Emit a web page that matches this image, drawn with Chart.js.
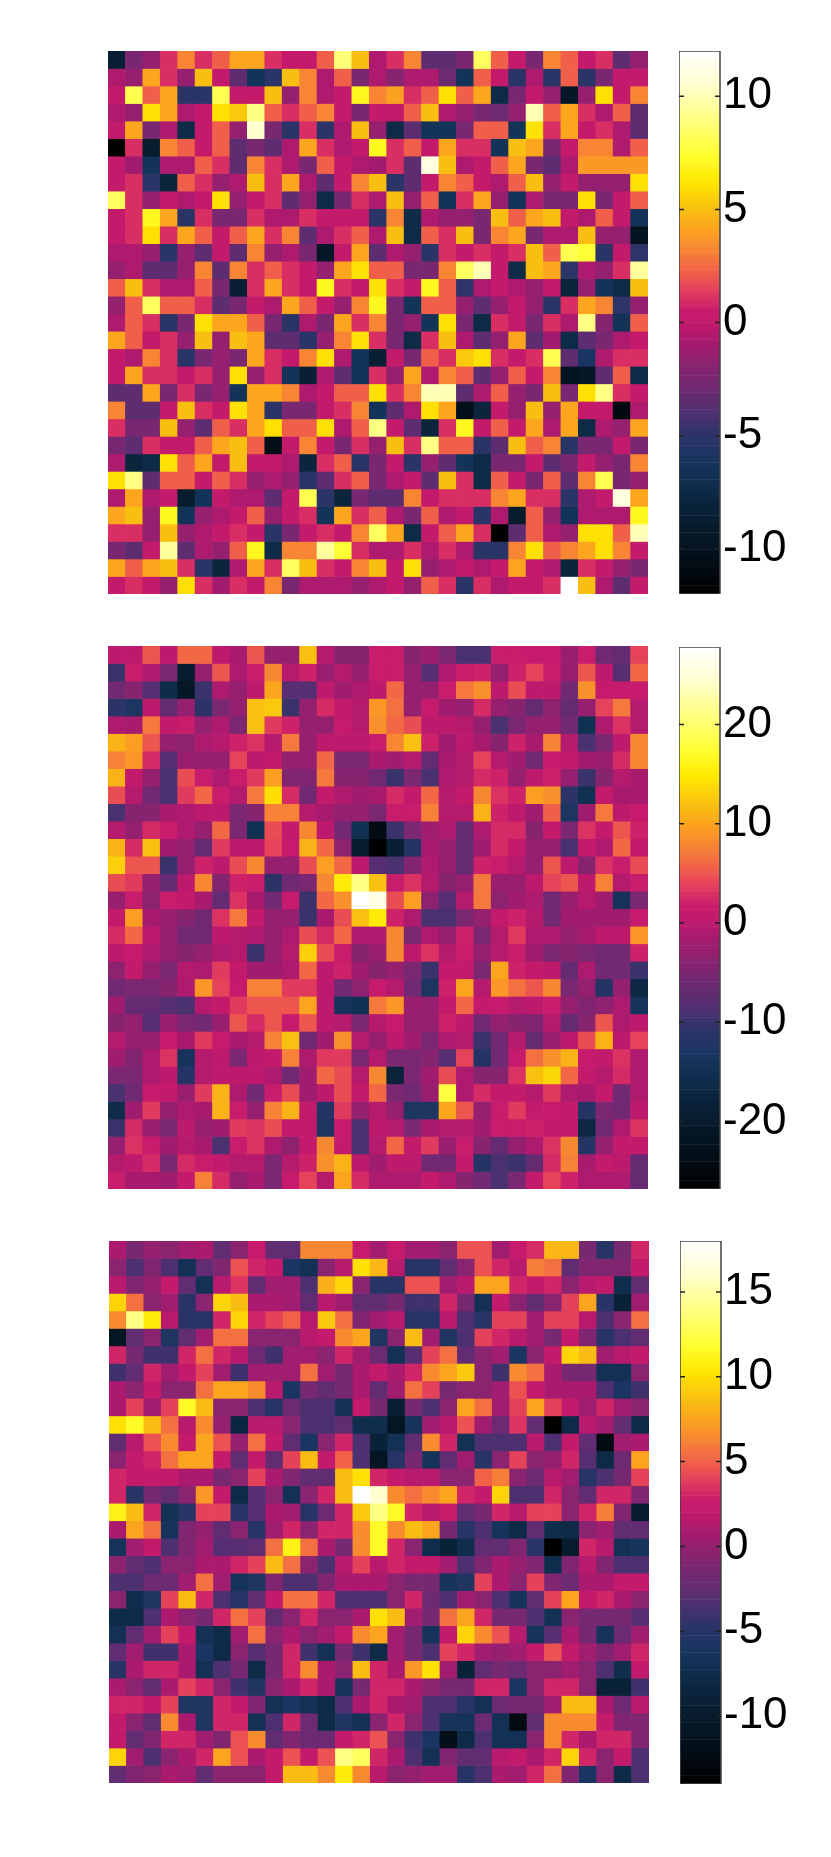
<!DOCTYPE html>
<html>
<head>
<meta charset="utf-8">
<title>Heatmaps</title>
<script src="https://cdn.jsdelivr.net/npm/chart.js@4/dist/chart.umd.min.js"></script>
<style>
    html, body { margin: 0; padding: 0; background: #fff; }
    #page { position: relative; width: 831px; height: 1857px; overflow: hidden; }
    canvas { position: absolute; }
</style>
</head>
<body>
<div id="page"></div>
<script>
// Values, rows top to bottom
const gridTop = [
[-8.5,-2.5,-1.5,1,3.2,1,2.2,4.2,4.2,1,0,0,2.2,8.8,5,-.7,1,3.2,-3.5,-3.5,-2.5,8.3,2.2,0,-2.5,3.2,2.2,0,1,-3.5,-1.5],
[-.7,-1.5,4.2,1,-1.5,5,0,-3.5,-6.5,-5.2,5,3.2,-.7,2.2,-2.5,-.7,-2,-.7,-.7,-3,-6.5,2.2,0,-5.2,-.7,-5.2,2.2,-5.2,-2.5,0,0],
[0,8,2.2,4.2,-5.2,-5.2,8,0,0,5,-1.5,3.2,-.7,0,7,3.2,4,1,2.2,6,2.2,4.2,-7.5,-2.5,0,-1.5,-9.5,-1.5,6,0,3.2],
[-.7,-1.5,6,4.2,-.7,0,6,5.3,9,2.2,1,2.2,3.2,0,-2.5,0,0,2.2,5,-.7,-1.5,-2.5,-3,-1.5,10,2.2,4.2,1,-.7,2.2,-3.5],
[0,4.2,-2.5,-.7,-7.5,0,2.2,-1.5,10.5,-2.5,-5.2,1,-5.2,-.7,5,-1.5,-7.5,-3.5,-6.5,-6.5,-2.5,2.2,2.2,-6.5,6,1,4.2,0,1,-.7,-3.5],
[-12,1,-9,3.2,2.2,0,2.2,-3.5,-2.5,-3.5,-.7,4.2,1,-.7,0,7,1,2.2,0,4.2,1,1,-6.5,5,4.2,-2.5,0,3.2,3.2,-.7,2.2],
[0,-1,-6.5,-.7,-.7,2.2,1,-3.5,3.2,1,-.7,-2.5,2.2,0,-.7,-1,1,-3.5,11,5,-.7,0,2.2,4.2,-2.5,-3.5,-.7,3.8,3.8,3.8,3.8],
[0,1,-5.2,-8,2.2,1,-1.5,-.7,5,1,4.2,-.7,-3.5,0,3.2,5,-5.2,-3.5,0,3.2,2.2,0,-.7,2.2,5,-1.5,0,-1.5,-1.5,-1.5,6],
[8.3,1,-1.5,0,-.7,0,6,-1.5,0,1,-3.5,-1.5,-7.5,-2.5,1,-.7,5,-1.5,2.2,-6.5,1,4.2,-1.5,-6.5,-.7,-2.5,-2.5,6,-2.5,0,2.2],
[0,1,7,4.2,-5.2,1,-2.5,-2.5,1,-.7,-.7,1,0,0,0,-5.2,3.2,-7.5,-.7,-1.5,-1.5,-2.5,5,2.2,4.2,5,0,-.7,2.2,0,-6.5],
[0,1,6,1,4.2,2.2,0,2.2,4.2,1,3.2,-3.5,-.7,1,2.2,-.7,5,-7.5,2.2,1,5,-2.5,3.2,4.2,-2.5,-.7,-.7,5,-1.5,-1.5,-10],
[-.7,-.7,-1.5,-5.2,-1.5,-3.5,0,-3.5,3.2,-1.5,-.7,-2.5,-9.5,0,4.2,-3.5,-.7,-1.5,-5.2,1,0,1,0,1,5,2.2,8,7.5,-5.2,0,-5],
[-1.5,-.7,-3.5,-3.5,-1.5,3.2,-3.5,3.2,1,2.2,1,0,-1.5,4.2,6,2.2,2.2,-2.5,-2.5,3.2,8.3,10,0,-7.5,5,4.2,-5,-.7,-1.5,1,9.5],
[2.2,5,1,-.7,-.7,2.2,-2.5,-8.5,1,4.2,1,0,7,1,0,6,1,0,7,2.2,-5,-.7,0,-.7,-1.5,0,-8,-1.5,-6.5,-7.5,5],
[-1.5,2.2,8.3,2.2,2.2,1,-3.5,-2.5,0,-.7,4.2,2.2,0,-1.5,3.2,7,-2.5,-6.5,2.2,2.2,-1.5,-3.5,-1.5,0,-1.5,-5.2,1,4.2,3.2,-5,-1.5],
[-.7,2.2,1,-5.2,-2.5,6,4.2,4.2,2.2,-2.5,-5.2,-.7,-2.5,4.2,1,3.2,-2.5,-1.5,-6.5,6,-2.5,-7.5,1,0,-2.5,1,-.7,9,-2,-6.5,2.2],
[4.2,2.2,0,1,-1.5,5,-1.5,5,4.2,-3.5,-3.5,-5.2,-1.5,3.2,6,1,-2.5,-7.5,1,5,-.7,-3.5,-1.5,4.2,-3.5,-1,-7.5,-3.5,-2.5,-.7,0],
[0,-.7,3.2,1,-5.2,-2.5,-1.5,-2.5,4.2,1,0,3.2,6,-.7,-6.5,-8.5,0,-2.5,2.2,1,5.3,6,1,0,1,8,-3.5,-6,-.7,1,1],
[0,4.2,1,1,0,1,-1.5,6,-1.5,1,-6.5,-8.5,-.7,-3.5,-6.5,1,-1.5,4.2,-.7,3.2,2.2,-3.5,-1.5,2.2,0,3.2,-10,-9.5,-3.5,2.2,-7.5],
[-3.5,-3.5,4.2,-2.5,1,-2.5,-1.5,-6.5,4.2,4.2,3.2,-.7,0,2.2,2.2,6,1,3.2,10,10,-3.5,-.7,2.2,-1.5,-2.5,5,-2.5,6,9,1,0],
[3.2,-3.5,-3.5,0,5,1,0,6,4.2,-5.2,-2.5,-2.5,0,1,3.2,-6.5,-3.5,-.7,6,4.2,-10.5,-8,0,-1.5,5,-1.5,4.2,0,0,-11,-.7],
[1,-2.5,-2.5,5,-1.5,-3.5,2.2,1,4.2,6,2.2,2.2,6,-.7,2.2,9,0,-3.5,-8,1,7,0,2.2,0,4.2,-.7,4.2,-7.5,-.7,-1.5,4.2],
[-2.5,-3.5,1,0,0,2.2,4.2,5,2.2,-10.5,0,3.2,0,-2.5,1,-1.5,5,1,9,2.2,2.2,-5.2,-3.5,5,2.2,3.2,-5.2,-2.5,-2.5,0,-2.5],
[-.7,-8,-7.5,6,2.2,4.2,0,5,0,0,-.7,-8,1,2.2,-5.2,-2.5,0,-5.2,-1.5,-3.5,-6.5,-7.5,-2.5,-2.5,0,-3.5,-2.5,0,-1.5,-2.5,3.2],
[6,9,-3.5,2.2,2.2,0,2.2,1,-1.5,-.7,-1.5,-5.2,-3.5,1,2.2,-2.5,-.7,0,-3.5,5,1,-7.5,2.2,0,-2.5,2.2,-3.5,3.2,8,-2.5,-1.5],
[-.7,4.2,-.7,0,-9,-6.5,0,-.7,-.7,-3.5,0,8,-5.2,-8,-2.5,-3.5,-3.5,3.2,0,1,1,1,3.2,4.2,1,1,-5.2,-.7,0,11,4.2],
[4.2,5,-1.5,7,-6.5,-1.5,-.7,0,2.2,-1.5,0,1,-6.5,4.2,1,2.2,-.7,-2.5,2.2,-.7,0,-5.2,-.7,-9,2.2,-1.5,-6.5,-.7,-.7,-.7,7],
[1,1,-1.5,5,-1.5,-.7,0,1,0,-5.2,-2.5,0,1,0,3.2,8.3,4.2,-7.5,0,2.2,4.2,1,-12,-3.5,2.2,-.7,-1.5,6,6,2.2,10],
[-2.5,-3.5,0,9.5,-3.5,-.7,-1.5,2.2,7,-7.5,3.2,3.2,9.5,7.5,1,-.7,-.7,1,-.7,1,-.7,-5.2,-5.2,3.2,6,2.2,3.2,4.2,6,3.2,0],
[4.2,2.2,4.2,5,1,-5.2,-8,-.7,4.2,1,8.3,5,1,0,3.2,5,0,6,-1.5,-.7,0,-.7,0,4.2,0,-.7,-8,1,0,-1.5,-2.5],
[0,1,0,-1.5,6,1,-1,1,0,3.2,-2.5,-.7,-.7,-.7,-1.5,-.7,0,-1.5,2.2,1,-5.2,1,-.7,0,0,1,12,5,-.7,-3.5,0]
];

const gridMiddle = [
[0,0,5,0,6,6,0,-1.5,5,-3,-3,12,-.5,-4,-4,1.5,1.5,-4,-2.5,-5,-9,-9,1.5,1.5,1,1,-2.5,1.5,-6,-7,4],
[-10,1.5,-1,-5,-20,-3,5,-1,1.5,8,-.5,2,-2.5,-.5,-3,1.5,1.5,-3,-8,-1,1.5,2,-3,2,4,1.5,-2.5,5,0,-8,6],
[-6,-4,-8,-16,-21,-10,-1,-3,0,10,-8,-8,0,-2,-1,0,6,-3,-3,1.5,7,8.5,0,4.5,0,0,-6,8.5,1,1,1],
[-11,-13,0,-7,-3,-11,-5,-3,12,12.5,-10,-3,2.5,.5,-.5,9,6.5,-3,1,-2,-3,2.5,-3,-4,-7,-3.5,-7,-3,4,7,-.5],
[-1,-1.5,7,.5,1.5,-3,-1,-5,12,3.5,2,-3,-3,1,-.5,8.5,6,4.5,0,0,-.5,-3,-9,-5,-3,-3,-6,-15,-1,3,-.5],
[11,9.5,5,-3,-3.5,-1,-.5,2,3,-.5,7,-3,0,0,0,1.5,8,12,2,-2,0,-1.5,-4,2,-1.5,7.5,-.5,-9,-5,0,8],
[7.5,9,2.5,-8,-2.5,-3,-3,4,0,.5,-3,-3,6,-5,-5,-1.5,-2,-.5,-7,-1.5,-.5,4,-.5,-2,-6,1,.5,-2,-2.5,2.5,8],
[11,.5,-3,-9,4.5,1.5,-1,1.5,3.5,9.5,-4.5,-4.5,7,-4,-4,-6,-10,-5,-9,-1,-.5,2.5,2,-3,0,2,-3,-10,-4,-.5,-1.5],
[4.5,-.5,-6,-9,3.5,6,1.5,-.5,7,14,2.5,-6,.5,-1,-2,-1.5,2.5,.5,6,-.5,.5,8,3,2,9.5,8.5,-11,-15,.5,-1.5,-1.5],
[-9,-4,-4,-1.5,-1,0,0,-5,-4,7.5,7.5,-.5,-1.5,-3,-3,-5,1.5,1.5,7.5,-.5,-.5,11,2,0,-2,5.5,-13,-2,7,0,1],
[-.5,-3,2.5,1.5,-1,-3,6,-5,-15,4.5,.5,8,0,-6,-15,-24,-10,-5,-2,-1,-7,-1,2.5,2.5,-4,.5,-5,3,.5,5,2],
[11,2.5,12,-2,-3,-7,3.5,0,0,4,1,11,6,-3.5,-20,-26.8,-19,-12,-1.5,-3,-7,-2,2.5,.5,-3,-3,-9,.5,-1,6,.5],
[13,5,5,-10,-3,2,0,4.5,8,-3,-3,4.5,9.5,6,0,-8,-9,-4.5,-1,-3,-7,2,1.5,-.5,-3,5,0,-4,3,1.5,4.5],
[4.5,3.5,-3,-7,0,8,-4.5,2,1.5,-11,-6,-5,8,15,21,12,1.5,3,-.5,-4,-3,7,-2.5,-2.5,0,4,5,0,7.5,-.5,1.5],
[-2.5,1.5,-3.5,1.5,.5,-1.5,-7,3,-1.5,-6,1,-10,6,8.5,27.8,26,4.5,9.5,-3.5,-8,-.5,7,-3.5,-2,-1,-6,-2.5,-.5,-2,-14,-5],
[.5,9.5,-1.5,-2.5,-4,-6,3,7,.5,-3,-3,-10,-1.5,4.5,12,15,2,-1,-9,-9,-5,-3,.5,2,-.5,-6,-2,-2,-2,-2,1],
[2.5,6,0,-3,-6,-6,0,-.5,-1,-3,-1,4.5,2.5,6,-1,-1,8,-5,-1,-3,2,-5,-.5,3.5,-1,-1,-3,-1.5,0,0,9],
[0,1,-1,-3,-4,-3,-1,-.5,-10,-3,-.5,13,4.5,1.5,-4,-2.5,8,0,3,-.5,1.5,-3,-.5,1.5,-2,-5,-4,-5,-6,-6,2],
[-3.5,.5,-3,-5,-.5,-1,3.5,.5,-2,-2,-1,6,0,2,-2,-4,-3,-5,-10,.5,.5,-5,10,2,.5,0,-7,-1,-6,-6,-10],
[-6,-5,-5,-4,-1,9,4,1,7.5,7.5,3.5,3.5,0,-6,-3.5,1,-.5,-6,-13,2,10,-.5,9,6.5,5,8,-5,-3,-12,-3,-17],
[-2,-7,-7,-8,-9,-.5,.5,3.5,5,5,5,10,0,-14,-15,7,9,-2.5,-3,.5,6,.5,1,-.5,0,1.5,-3,-4.5,-3.5,-1,-14],
[-4,-3,-8,-2.5,-5,-6,-2.5,5,2.5,5,1,5,0,-.5,-5,-.5,1,-3,-3,2,0,-6,-3,-4,-4.5,-.5,-7,-4,5,-1,0],
[-.5,-3,-3,1,-1.5,3.5,1,-1.5,-.5,7.5,12,-6,-2,8.5,-.5,-3,0,-2,-5,-1,-.5,-10,-6,-.5,-7,-2.5,0,4.5,11,0,4],
[-2,-4.5,-1,3,-14,-.5,0,-5,0,.5,7.5,-1,3.5,3.5,-5,-.5,-5,-5,-4,-8,4,-12,-6,1,6.5,8.5,11,1,.5,3,-1],
[-5,-5,-1,0,-12,-.5,0,0,0,-1,-6,-2,6,4.5,-.5,8,-18,-5,-2,4.5,-1,-4,-4,3,12,13.5,6,.5,-.5,2.5,-1],
[-9,-6,1,.5,-2.5,3.5,11,-1,-6,1.5,4.5,-2,0,4.5,.5,6,-5,-6,-2.5,18,-1,2.5,.5,.5,-.5,3.5,-1,-1.5,.5,-6,-1],
[-16,-2,3.5,-3,-1,-1.5,11,1.5,-3,7.5,11,.5,-12,3.5,-3,-.5,-3,-13,-13,10,5,-3,1.5,3.5,.5,1,.5,-12,-5,-6,0],
[-10,2.5,-2.5,-5,0,-3,-2,3.5,3,4.5,.5,.5,-13,1,-9,0,-.5,-5,-1.5,-.5,-.5,-2,1.5,1.5,2,.5,.5,-17,-6,-1,3],
[-3,3,1.5,-2,-.5,-1.5,-9,1.5,3,-1,-3.5,.5,8,.5,-9,-.5,6,.5,3.5,-2.5,1.5,-4,-7,-3,-1,3,8,-12,-3,.5,.5],
[-.5,0,2.5,-5,2.5,1.5,.5,-.5,-.5,-5,-.5,2,8.5,11,0,-2,0,0,-6,-6,.5,-12,-9,-10,-7,2.5,7.5,-1.5,.5,0,-7],
[1.5,-1.5,-1.5,-2,.5,7.5,2.5,-3,-1.5,-5,1,4,-.5,10,2.5,-1,-1,-1,.5,-1,-4,-6,-9,-5,.5,4,2,-1,-1,-1,-7]
];

const gridBottom = [
[1,-1.3,0,-.5,.5,1,-2.5,-.5,2.3,-2.5,-2.5,6.3,6.3,6.3,2.3,.5,2.3,.5,.5,-.5,4.5,4.5,.5,2.3,3.3,8.3,8.3,-1.5,-5,-1.5,3],
[-.5,-3.5,-1,-3.5,-7,-2.5,-1,4.5,3,2,-6,-7,-.5,1.5,10,8.3,1.5,-5,-5,-2.5,-.5,4.5,3,1.5,6,5.5,-2.5,-1,-1,-1,2],
[1.5,-1,0,2,-2.5,-7,1.5,3.5,-2.5,.5,.5,-3.5,8,9.5,-.5,-5,-5,4.5,4.5,.5,1.5,7.5,7.5,3,2,3,-.5,1.5,2,-7.5,-2.5],
[9.5,5.5,-.5,.5,-5,-.5,9.5,8.5,1,1,.5,-2.5,1.5,.5,-2.5,-2.5,-1.5,-4,-4,3,-1.5,-7,2,-.5,-2.5,-.5,4,7.5,-5,-9,.5],
[6.5,14,10.5,1.5,-5,-5,3,9.5,3,4,5,1.5,9,5.5,-1,.5,1.5,-5,-5,1.5,-3.5,-5,4,4,.5,4,4,1.5,-3.5,-.5,5.5],
[-11,-2.5,-.5,-5.5,-2.5,.5,5.5,5.5,-.5,-.5,-.5,1.5,2,6.5,7.5,-5.5,-.5,8.5,.5,-5.5,-3.5,4,3,1.5,.5,-1.5,2,-1,-5,-3.5,-2.5],
[3,-1.5,-4,-4,3,5.5,3,1.5,-2,-4,.5,.5,-.5,3,.5,-2,-7,-3,4,5.5,-2.5,-.5,.5,-6,-.5,2,9.5,8.5,.5,1.5,2],
[-4,-2.5,3,.5,2,4,.5,-4,.5,.5,.5,5.5,.5,-1.5,1,2,1,3,6.5,7.5,9,-.5,-4,6.5,5.5,1,-1.5,-1.5,-7,-7,-.5],
[1,-.5,2,-.5,-.5,5.5,7.5,7.5,6.5,1.5,-6,-1.5,-2.5,-1.5,1,-2.5,.5,5.5,4,-1.5,-.5,-.5,.5,4.5,2,1,1,1,-3.5,-6,-4],
[1,4,.5,4,11.5,8.5,-.5,-.5,-3.5,-5,-2,-3.5,-3.5,-7,2,-1.5,-9.5,-1.5,-3.5,-.5,7.5,5.5,.5,4,7.5,4,2,.5,3,.5,-.5],
[10,11.5,8.5,5.5,1.5,6.5,0,-8.5,1.5,1.5,-.5,-3.5,-3.5,-2.5,-7.5,-7.5,-11,-6.5,.5,1.5,4.5,.5,-2,3.5,-2.5,-14,-8,1.5,.5,-2.5,-8],
[-2.5,1.5,4.5,6.5,2,7.5,4.5,0,5.5,2,-2.5,-6,-.5,3,-3.5,-9,-7,-2.5,6.5,3,-7,-3.5,-3.5,-3.5,1.5,-3.5,2,-2.5,-12.5,.5,1],
[-.5,2,3,5.5,7.5,7.5,2,-2.5,2,-2.5,4,8.5,2,5,-3.5,-11,-5,-1.5,-6.5,-2.5,.5,-5,-.5,4,-.5,0,3,-3,-8,-2,7.5],
[3,2,2,2,1,1,-1.5,-.5,4,1,-1,-2.5,-2.5,8.5,10,3,2,1.5,1.5,-.5,-.5,5,6,-.5,-2,1.5,.5,-5,-3.5,-1.5,4],
[3,-5,-1.5,-2.5,-.5,7,2,-8,-3,-.5,-7,-.5,3,8.5,18,16,6.5,5.5,6.5,7.5,3,2,9.5,-3.5,-3.5,3,-.5,-2.5,3,3,-1],
[11,8.5,3,-7,-5,4,4,-5,-3,1,.5,-5,-2,3,9,14,11.5,3,1.5,2.5,-2.5,-1.5,3,1.5,4,4,-.5,3,6,-1,-10],
[1,7.5,5.5,-6.5,-1,0,-2.5,-.5,-5,.5,3,-.5,3,3,6.5,11.5,6.5,8.5,7.5,-1.5,-5,-3.5,-6.5,-8,-2.5,-7.5,-8,-.5,.5,-2.5,-2.5],
[-6.5,.5,2,-3.5,-1,.5,-3,-3,-2.5,5.5,11,5.5,1,-1.5,6.5,11.5,3,-.5,-7.5,-9,-7.5,-2.5,-2.5,-1,-5,-14,-10,3,1.5,-7,-6.5],
[-.5,-2.5,-3.5,-.5,-.5,1,1,3,4,8.5,5.5,-.5,-3.5,1.5,4,1.5,3,2,2,.5,-3.5,-1,1,0,-1,-7.5,-1,1.5,-1,-3.5,-3.5],
[-3.5,-3.5,-2,-2,.5,5.5,.5,-6.5,-5.5,-1,-3.5,-3.5,-1,1,1,1,-.5,-1.5,-1.5,-6.5,-5.5,4,1,-.5,4,-1,-2,1,1,2,2],
[-.5,-7.5,-5.5,4,8.5,3,-3.5,-5,-2.5,2,5.5,5.5,3,-3.5,-3.5,-3.5,-.5,3,-2,-3.5,.5,-.5,-3.5,-6.5,-2.5,4,7.5,2,3,1,-.5],
[-8,-8,-3.5,1,-.5,-1.5,3,5.5,4,-2.5,-.5,3,-.5,-.5,1,10,8.5,.5,-1.5,5.5,7.5,3,-1.5,-1.5,-3.5,-7,-.5,-1.5,-1.5,-1.5,-3],
[-7,-2.5,.5,4,2,-7,-8,.5,5.5,-.5,1,-.5,.5,2,6.5,7.5,.5,-1.5,-6.5,2,9.5,6.5,4.5,1.5,-6.5,-3,1,-1.5,-6.5,-2,.5],
[-2.5,.5,-4,-4,1,-6,-8,-.5,-3,-1.5,3,-4,-7,-1.5,-4,-8,.5,-1.5,-3.5,4,3,.5,0,.5,2,4.5,2,.5,-1,.5,3],
[-5,1,3,3,1,-7,-3.5,-1.5,-8,-1.5,3,6.5,1,-.5,8.5,3,1,7,10,.5,-9,-2.5,-1.5,-2,-.5,-.5,.5,-.5,-3.5,-7.5,2],
[1,-.5,-2.5,1,4,3,-.5,-4,-5.5,-.5,1,3,1,-6.5,-1.5,3,3,1,-.5,-1.5,-1.5,3,3,-6,-.5,3,3,-.5,-9,-9,-4],
[3,3,2,4,-5.5,-5.5,3,2,-1,-7,-6,-7,-8,-3.5,1,3,1,.5,-3.5,-3.5,-5,-7,-2,-1.5,-1.5,.5,8.5,8.5,1,-2,1.5],
[2,-.5,-2.5,6.5,1,-5.5,3,3,-7,-3.5,3,-2,-8,-5.5,-7,-.5,3,-.5,-3.5,-6.5,-6.5,-2,-7,-12.5,-2.5,6.5,6.5,6.5,2,-1,-1],
[2,-2.5,-1,3,3,.5,-1,4.5,6.5,-2.5,-1,-2,-2,2,3,4.5,-.5,-4,-6,-12,-8,-3.5,-7,-7,-.5,6.5,3,1,3,3,-1],
[9.5,.5,-3.5,-.5,1,3,7.5,4.5,1,2,4.5,2,4.5,14,13,3,1,-3.5,-7,-1,-2.5,-2.5,1.5,2,1,3,9.5,3,-.5,2,-3.5],
[-2.5,-1,-.5,1,.5,-2.5,-.5,-.5,-.5,2,8.5,8.5,6.5,10.5,6.5,1.5,-.5,0,.5,.5,-5,-3.5,1,.5,3,5.5,-1,-6,-.5,-8,-3.5]
];

const ticksTop = [-10, -5, 0, 5, 10];
const ticksMiddle = [-20, -10, 0, 10, 20];
const ticksBottom = [-10, -5, 0, 5, 10, 15];

// Colour ramp, position 0..1 and hex
const rampStops = [
    [0, '#000000'], [.084, '#041420'], [.157, '#0a2238'], [.211, '#103050'], [.245, '#183560'],
    [.293, '#2e3468'], [.332, '#4f3070'], [.372, '#6a2a72'], [.419, '#882470'], [.465, '#a81a6e'],
    [.5, '#c41a6c'], [.52, '#c81c6c'], [.553, '#e03860'], [.586, '#ef5a4c'], [.627, '#f68038'],
    [.667, '#fba020'], [.709, '#f9c010'], [.76, '#ffe800'], [.808, '#ffff30'], [.846, '#ffff60'],
    [.896, '#ffff9c'], [.9375, '#ffffd0'], [1, '#ffffff']
];

const hexToRgb = (hex) => [1, 3, 5].map(i => parseInt(hex.slice(i, i + 2), 16));

// Colour for a value between min and max
const colourFor = (value, min, max) => {
    const t = Math.min(1, Math.max(0, (value - min) / (max - min)));
    let i = 1;
    while (i < rampStops.length - 1 && rampStops[i][0] < t) i++;
    const [t0, c0] = rampStops[i - 1];
    const [t1, c1] = rampStops[i];
    const a = hexToRgb(c0);
    const b = hexToRgb(c1);
    const f = (t - t0) / (t1 - t0);
    return `rgb(${a.map((v, k) => Math.round(v + (b[k] - v) * f)).join(',')})`;
};

const addCanvas = (left, top, width, height) => {
    const canvas = document.createElement('canvas');
    canvas.width = width;
    canvas.height = height;
    canvas.style.left = left + 'px';
    canvas.style.top = top + 'px';
    canvas.style.width = width + 'px';
    canvas.style.height = height + 'px';
    document.getElementById('page').appendChild(canvas);
    return canvas;
};

const baseOptions = {
    responsive: false,
    animation: false,
    layout: { padding: 0 },
    plugins: { legend: { display: false }, tooltip: { enabled: false } }
};

// One floating bar dataset per row
const drawHeatmap = (grid, min, max, box) => {
    const columns = grid[0].map((_, i) => String(i));
    new Chart(addCanvas(box.left, box.top, box.width, box.height), {
        type: 'bar',
        data: {
            labels: columns,
            datasets: grid.map((row, r) => ({
                data: row.map(() => [r, r + 1]),
                backgroundColor: row.map(v => colourFor(v, min, max)),
                borderWidth: 0
            }))
        },
        options: {
            ...baseOptions,
            datasets: { bar: { grouped: false, barPercentage: 1, categoryPercentage: 1 } },
            scales: {
                x: { display: false },
                y: { display: false, reverse: true, min: 0, max: grid.length }
            }
        }
    });
};

// Short ticks on both sides of the bar plus its frame
const barFrame = {
    id: 'barFrame',
    afterDraw(chart) {
        const { ctx, chartArea: area, scales } = chart;
        ctx.save();
        ctx.strokeStyle = '#444';
        ctx.lineWidth = 1.5;
        ctx.strokeRect(area.left, area.top, area.right - area.left, area.bottom - area.top);
        ctx.strokeStyle = '#222';
        scales.y.ticks.forEach(tick => {
            const y = scales.y.getPixelForValue(tick.value);
            ctx.beginPath();
            ctx.moveTo(area.left, y);
            ctx.lineTo(area.left + 5, y);
            ctx.moveTo(area.right - 5, y);
            ctx.lineTo(area.right, y);
            ctx.stroke();
        });
        ctx.restore();
    }
};

const drawColourBar = (ticks, min, max, box) => {
    const steps = 256;
    const size = (max - min) / steps;
    const levels = [...Array(steps).keys()].map(i => min + i * size);
    new Chart(addCanvas(box.left, box.top, 831 - box.left, box.height), {
        type: 'bar',
        data: {
            labels: ['bar'],
            datasets: levels.map(level => ({
                data: [[level, level + size]],
                backgroundColor: colourFor(level + size / 2, min, max),
                borderWidth: 0
            }))
        },
        options: {
            ...baseOptions,
            datasets: { bar: { grouped: false, barPercentage: 1, categoryPercentage: 1 } },
            scales: {
                x: { display: false },
                y: {
                    position: 'right',
                    min,
                    max,
                    border: { display: false },
                    grid: { display: false, drawTicks: false },
                    afterBuildTicks: (scale) => { scale.ticks = ticks.map(value => ({ value })); },
                    afterFit: (scale) => {
                        scale.width = 831 - box.left - box.width;
                        scale.paddingTop = 0;
                        scale.paddingBottom = 0;
                    },
                    ticks: {
                        color: '#000',
                        padding: 3,
                        font: { family: '"Liberation Sans", Arial, sans-serif', size: 44 }
                    }
                }
            }
        },
        plugins: [barFrame]
    });
};

drawHeatmap(gridTop, -12, 12, { left: 108, top: 51, width: 540, height: 543 });
drawHeatmap(gridMiddle, -26.8, 27.8, { left: 108, top: 646, width: 540, height: 543 });
drawHeatmap(gridBottom, -14, 18, { left: 109, top: 1241, width: 540, height: 542 });

drawColourBar(ticksTop, -12, 12, { left: 679, top: 51, width: 41, height: 543 });
drawColourBar(ticksMiddle, -26.8, 27.8, { left: 679, top: 647, width: 41, height: 542 });
drawColourBar(ticksBottom, -14, 18, { left: 680, top: 1241, width: 41, height: 543 });
</script>
</body>
</html>
